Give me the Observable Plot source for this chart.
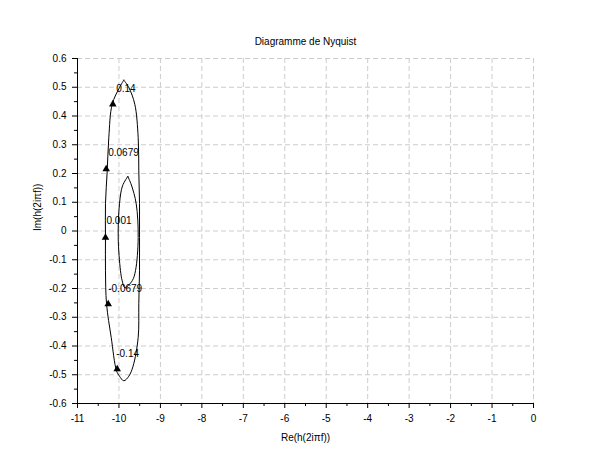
<!DOCTYPE html>
<html><head><meta charset="utf-8">
<script src="https://cdn.jsdelivr.net/npm/d3@7"></script>
<script src="https://cdn.jsdelivr.net/npm/@observablehq/plot@0.6"></script>
<style>body{margin:0;background:#fff;} svg{font-family:"Liberation Sans",Arial,sans-serif;}</style>
</head><body><div id="chart"></div>
<script>
// Outer loop (Re, Im)
const outerRe = [-9.883,-9.762,-9.618,-9.536,-9.521,-9.504,-9.504,-9.504,-9.521,-9.536,-9.659,-9.762,-9.883,-9.987,-10.059,-10.187,-10.300,-10.325,-10.325,-10.325,-10.283,-10.245,-10.163,-9.987,-9.883];
const outerIm = [0.525,0.499,0.441,0.325,0.209,0.095,-0.023,-0.138,-0.253,-0.370,-0.470,-0.505,-0.521,-0.505,-0.486,-0.370,-0.253,-0.138,-0.023,0.095,0.209,0.325,0.441,0.499,0.525];
// Inner loop
const innerRe = [-9.786,-9.700,-9.584,-9.536,-9.601,-9.680,-9.859,-9.922,-9.963,-10.018,-9.987,-9.914,-9.786];
const innerIm = [0.190,0.160,0.095,-0.023,-0.138,-0.173,-0.197,-0.173,-0.138,-0.023,0.095,0.157,0.190];
// Arrow positions
const arrowRe = [-10.148,-10.308,-10.325,-10.259,-10.042];
const arrowIm = [0.441,0.215,-0.023,-0.254,-0.480];
// Frequency labels
const freqLabels = ["0.14","0.0679","0.001","-0.0679","-0.14"];
const labelRe = [-10.066,-10.259,-10.300,-10.259,-10.066];
const labelIm = [0.494,0.273,0.035,-0.202,-0.428];
// Ticks
const xTicks = [-11,-10,-9,-8,-7,-6,-5,-4,-3,-2,-1,0];
const xMinor = [-10.5,-9.5,-8.5,-7.5,-6.5,-5.5,-4.5,-3.5,-2.5,-1.5,-0.5];
const yTicks = [-0.6,-0.5,-0.4,-0.3,-0.2,-0.1,0,0.1,0.2,0.3,0.4,0.5,0.6];
const yMinor = [-0.55,-0.45,-0.35,-0.25,-0.15,-0.05,0.05,0.15,0.25,0.35,0.45,0.55];

const outer = outerRe.map((x,i)=>({x, y: outerIm[i]}));
const inner = innerRe.map((x,i)=>({x, y: innerIm[i]}));
const arrows = arrowRe.map((x,i)=>({x, y: arrowIm[i]}));
const labels = freqLabels.map((t,i)=>({t, x: labelRe[i], y: labelIm[i]}));
const fmt = d => String(d);

const chart = Plot.plot({
  width: 610, height: 460,
  marginLeft: 77, marginRight: 77, marginTop: 58, marginBottom: 57,
  style: {fontSize: "10px", fontFamily: "Liberation Sans, Arial, sans-serif", background: "#fff"},
  x: {domain: [-11, 0]},
  y: {domain: [-0.6, 0.6]},
  marks: [
    Plot.gridX(xTicks, {stroke: "#cccccc", strokeOpacity: 1, strokeDasharray: "5,3"}),
    Plot.gridY(yTicks, {stroke: "#cccccc", strokeOpacity: 1, strokeDasharray: "5,3"}),
    Plot.axisX(xTicks, {tickSize: 5, tickFormat: fmt, label: null, tickPadding: 6, fill: "#000"}),
    Plot.axisX(xMinor, {tickSize: 3, text: null, label: null}),
    Plot.axisY(yTicks, {tickSize: 5, tickFormat: fmt, label: null, tickPadding: 6, fill: "#000"}),
    Plot.axisY(yMinor, {tickSize: 3, text: null, label: null}),
    Plot.ruleY([-0.6], {stroke: "#000"}),
    Plot.ruleX([-11], {stroke: "#000"}),
    Plot.line(outer, {x: "x", y: "y", stroke: "#000", strokeWidth: 1, curve: "catmull-rom"}),
    Plot.line(inner, {x: "x", y: "y", stroke: "#000", strokeWidth: 1, curve: "catmull-rom"}),
    Plot.dot(arrows, {x: "x", y: "y", symbol: "triangle", r: 2.8, fill: "#000"}),
    Plot.text(labels, {x: "x", y: "y", text: "t", textAnchor: "start", fill: "#000"}),
    Plot.text(["Diagramme de Nyquist"], {frameAnchor: "top", lineAnchor: "middle", dy: -17, fill: "#000"}),
    Plot.text(["Re(h(2iπf))"], {frameAnchor: "bottom", lineAnchor: "middle", dy: 34, fill: "#000"}),
    Plot.text(["Im(h(2iπf))"], {frameAnchor: "left", lineAnchor: "middle", rotate: -90, dx: -40, fill: "#000"})
  ]
});
document.getElementById("chart").appendChild(chart);
</script></body></html>
